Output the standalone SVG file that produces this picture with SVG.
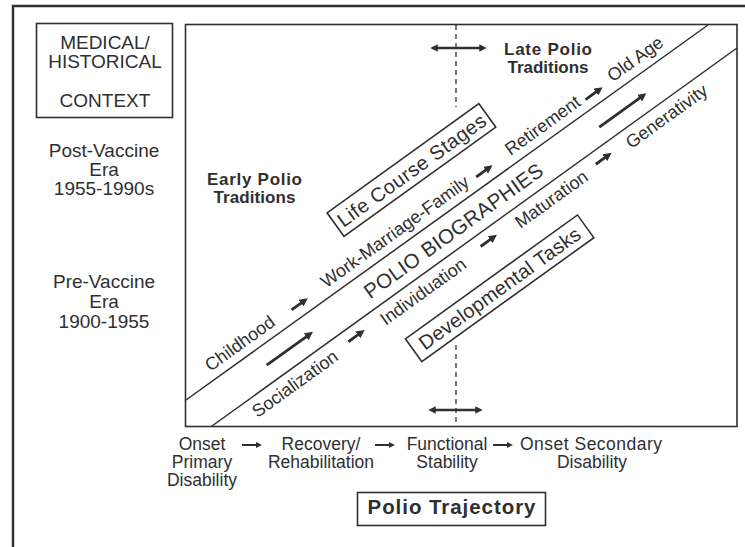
<svg xmlns="http://www.w3.org/2000/svg" width="745" height="547" viewBox="0 0 745 547">
<defs>
<style>
text { font-family: "Liberation Sans", Arial, Helvetica, sans-serif; fill: #2f2f2f; text-anchor: middle; }
.ctx { font-size: 19px; }
.bold { font-weight: bold; font-size: 17px; }
.lbl { font-size: 18px; }
.big { font-size: 20px; }
.bt { font-size: 17.5px; }
.tb { font-weight: bold; font-size: 20.5px; }
.box { fill: none; stroke: #2f2f2f; stroke-width: 1.6; }
.ln { fill: none; stroke: #2f2f2f; stroke-width: 1.5; }
.dash { fill: none; stroke: #2f2f2f; stroke-width: 1.3; stroke-dasharray: 5 4; }
.arr { stroke: #2f2f2f; fill: none; marker-end: url(#ah); }
.dbl { stroke: #2f2f2f; fill: none; stroke-width: 2.5; marker-start: url(#ah); marker-end: url(#ah); }
</style>
<marker id="ah" viewBox="0 0 10 10" refX="1" refY="5" markerWidth="3" markerHeight="3" orient="auto-start-reverse" markerUnits="strokeWidth"><path d="M0,0 L10,5 L0,10 z" fill="#2f2f2f"/></marker>
</defs>
<rect width="745" height="547" fill="#ffffff"/>
<g id="frames">
<path d="M13,552 L13,6 L750,6" fill="none" stroke="#2f2f2f" stroke-width="2.4"/>
<rect x="185.5" y="24.5" width="551.5" height="402" class="box" stroke-width="1.8"/>
<line x1="186" y1="400" x2="708" y2="25" class="ln"/>
<line x1="212" y1="426" x2="737" y2="48" class="ln"/>
<line x1="456" y1="25" x2="456" y2="107" class="dash"/>
<line x1="456" y1="345" x2="456" y2="427" class="dash"/>
</g>
<g id="context">
<rect x="36.5" y="23.5" width="136" height="94" class="box"/>
<text class="ctx" x="105" y="49">MEDICAL/</text>
<text class="ctx" x="105" y="68">HISTORICAL</text>
<text class="ctx" x="105" y="107">CONTEXT</text>
</g>
<g id="post-vaccine">
<text class="ctx" x="104" y="157">Post-Vaccine</text>
<text class="ctx" x="104" y="176">Era</text>
<text class="ctx" x="104" y="195">1955-1990s</text>
</g>
<g id="pre-vaccine">
<text class="ctx" x="104" y="288">Pre-Vaccine</text>
<text class="ctx" x="104" y="308">Era</text>
<text class="ctx" x="104" y="328">1900-1955</text>
</g>
<g id="early-polio">
<text class="bold" x="254.5" y="185" textLength="95">Early Polio</text>
<text class="bold" x="254.5" y="203" textLength="82">Traditions</text>
</g>
<g id="late-polio">
<text class="bold" x="548" y="55" textLength="88">Late Polio</text>
<text class="bold" x="548" y="73" textLength="81">Traditions</text>
</g>
<g transform="translate(187,400) rotate(-35.75)">
<g id="life-course">
<rect x="223" y="-70" width="187" height="29" class="box"/>
<text class="big" x="316.5" y="-48.3" textLength="178">Life Course Stages</text>
</g>
<g id="polio-biographies">
<text class="big" x="315" y="25.5" style="font-size:20.5px" textLength="215">POLIO BIOGRAPHIES</text>
</g>
<g id="developmental">
<rect x="213" y="78" width="212" height="28" class="box"/>
<text class="big" x="319" y="99" textLength="194">Developmental Tasks</text>
</g>
<g id="childhood"><text class="lbl" x="76" y="-9">Childhood</text></g>
<g id="work"><text class="lbl" x="267" y="-9">Work-Marriage-Family</text></g>
<g id="retirement"><text class="lbl" x="449" y="-9">Retirement</text></g>
<g id="old-age"><text class="lbl" x="563" y="-9">Old Age</text></g>
<g id="socialization"><text class="lbl" x="97" y="56">Socialization</text></g>
<g id="individuation"><text class="lbl" x="255" y="56">Individuation</text></g>
<g id="maturation"><text class="lbl" x="413" y="56">Maturation</text></g>
<g id="generativity"><text class="lbl" x="555" y="56">Generativity</text></g>
<g id="connectors-diag">
<line x1="137.5" y1="-12" x2="150" y2="-12" class="arr" stroke-width="2.8"/>
<line x1="365" y1="-12" x2="377.5" y2="-12" class="arr" stroke-width="2.8"/>
<line x1="499" y1="-11" x2="512.5" y2="-11" class="arr" stroke-width="2.8"/>
<line x1="165" y1="47" x2="177.5" y2="47" class="arr" stroke-width="2.8"/>
<line x1="328" y1="47" x2="340.5" y2="47" class="arr" stroke-width="2.8"/>
<line x1="469.5" y1="47.5" x2="481.5" y2="47.5" class="arr" stroke-width="2.8"/>
<line x1="85" y1="18.3" x2="134.5" y2="18.3" class="arr" stroke-width="2.8"/>
<line x1="494" y1="19.5" x2="544.5" y2="19.5" class="arr" stroke-width="2.8"/>
</g>
</g>
<g id="connectors">
<line x1="437" y1="48" x2="480" y2="48" class="dbl"/>
<line x1="435" y1="410" x2="476" y2="410" class="dbl"/>
<line x1="242" y1="445" x2="256.5" y2="445" class="arr" stroke-width="2"/>
<line x1="375" y1="445" x2="389.5" y2="445" class="arr" stroke-width="2"/>
<line x1="493" y1="445" x2="507.5" y2="445" class="arr" stroke-width="2"/>
</g>
<g id="onset-primary">
<text class="bt" x="202" y="450">Onset</text>
<text class="bt" x="202" y="468">Primary</text>
<text class="bt" x="202" y="486">Disability</text>
</g>
<g id="recovery">
<text class="bt" x="321" y="450">Recovery/</text>
<text class="bt" x="321" y="468">Rehabilitation</text>
</g>
<g id="functional">
<text class="bt" x="447" y="450">Functional</text>
<text class="bt" x="447" y="468">Stability</text>
</g>
<g id="onset-secondary">
<text class="bt" x="591" y="450" textLength="142">Onset Secondary</text>
<text class="bt" x="592" y="468">Disability</text>
</g>
<g id="polio-trajectory">
<rect x="357.5" y="492.5" width="188" height="33" class="box"/>
<text class="tb" x="451.5" y="514" textLength="168">Polio Trajectory</text>
</g>
</svg>
